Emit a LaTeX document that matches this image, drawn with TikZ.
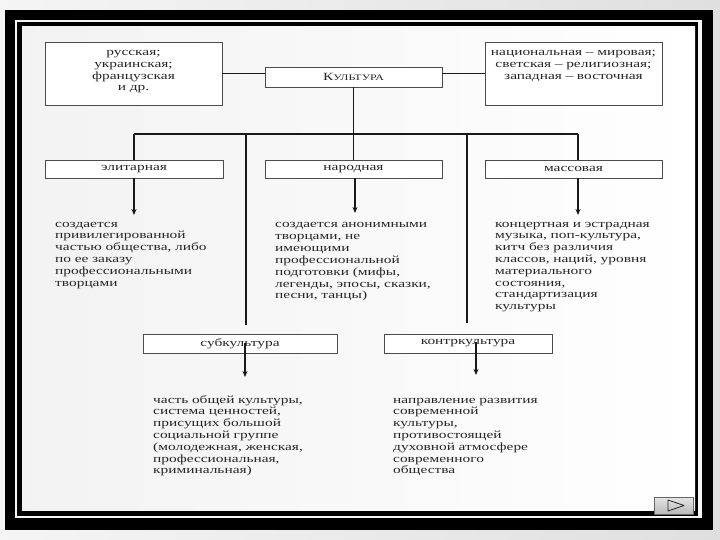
\documentclass[tikz,border=0pt]{standalone}
\usepackage{fontspec}
\setmainfont{Liberation Serif}[FakeStretch=1.4]
\usetikzlibrary{arrows.meta}
\begin{document}
\begin{tikzpicture}[x=1pt,y=-1pt,
  box/.style 2 args={draw=black!70, line width=0.8pt, fill=white, minimum width=#1, minimum height=#2, inner sep=0pt},
  txt/.style={font=\fontsize{11}{11.8}\selectfont, inner sep=0pt, text=black!85},
  ltxt/.style={txt, text width=200pt, align=left, anchor=base west},
  ctxt/.style={txt, text width=177pt, align=center, anchor=base},
  conn/.style={line width=1.3pt, black!90},
  arr/.style={conn, -{Stealth[length=6pt,width=5pt]}}
]
\useasboundingbox (0,0) rectangle (720,540);
% frame
\shade[left color=gray!8, right color=gray!25] (0,0) rectangle (720,540);
\fill[black] (5,10) rectangle (713,530);
\fill[gray!8] (15,20) rectangle (702,518);
\fill[black] (17,22) rectangle (698,516);
\shade[left color=gray!10, right color=white] (22,27) rectangle (695,510);

% top row
\node[box={177pt}{63pt}] (tl) at (133.5,73.5) {};
\node[ctxt] (tlt) at (133.5,55.5) {русская;\\украинская;\\французская\\и др.};
\node[box={177pt}{63pt}] (tr) at (573.5,73.5) {};
\node[ctxt] (trt) at (573.5,55.5) {национальная -- мировая;\\светская -- религиозная;\\западная -- восточная};
\node[box={177pt}{20pt}, txt] (kul) at (353.5,77) {К{\fontsize{8.5}{10}\selectfont УЛЬТУРА}};

% second row
\node[box={178pt}{18pt}, txt] (el) at (134,169) {элитарная};
\node[box={177pt}{18pt}, txt] (nar) at (353.5,169) {народная};
\node[box={177pt}{18pt}, txt] (mas) at (573.5,169) {массовая};

% texts
\node[ltxt] (elt) at (55,227) {создается\\привилегированной\\частью общества, либо\\по ее заказу\\профессиональными\\творцами};
\node[ltxt] (nart) at (275,228) {создается анонимными\\творцами, не\\имеющими\\профессиональной\\подготовки (мифы,\\легенды, эпосы, сказки,\\песни, танцы)};
\node[ltxt] (mast) at (495,227) {концертная и эстрадная\\музыка, поп-культура,\\китч без различия\\классов, наций, уровня\\материального\\состояния,\\стандартизация\\культуры};

% third row
\node[box={194pt}{19pt}, txt] (sub) at (240,343.5) {субкультура};
\node[box={168pt}{19pt}, txt] (kon) at (468,343.5) {контркультура};
\node[ltxt] (subt) at (153,403) {часть общей культуры,\\система ценностей,\\присущих большой\\социальной группе\\(молодежная, женская,\\профессиональная,\\криминальная)};
\node[ltxt] (kont) at (393,403) {направление развития\\современной\\культуры,\\противостоящей\\духовной атмосфере\\современного\\общества};

% coordinates
\coordinate (bL) at (134,134);
\coordinate (bR) at (578,134);
\coordinate (vL) at (246,134);
\coordinate (vLe) at (246,325);
\coordinate (vR) at (467,134);
\coordinate (vRe) at (467,323);
\coordinate (elTip) at (134,215);
\coordinate (narTip) at (355,213);
\coordinate (masTip) at (578,215);
\coordinate (subS) at (245,343);
\coordinate (subTip) at (245,377);
\coordinate (konS) at (476,342);
\coordinate (konTip) at (476,375);

% connectors
\draw[conn] (tl.east) -- (tl.east -| kul.west);
\draw[conn] (tr.west -| kul.east) -- (tr.west);
\draw[conn] (kul.south) -- (kul.south |- bL);
\draw[conn] (bL) -- (bR);
\draw[conn] (bL) -- (el.north);
\draw[conn] (kul.south |- bL) -- (nar.north);
\draw[conn] (bR) -- (bR |- mas.north);
\draw[conn] (vL) -- (vLe);
\draw[conn] (vR) -- (vRe);
\draw[arr] (el.south) -- (elTip);
\draw[arr] (narTip |- nar.south) -- (narTip);
\draw[arr] (masTip |- mas.south) -- (masTip);
\draw[arr] (subS) -- (subTip);
\draw[arr] (konS) -- (konTip);

% button
\shade[top color=gray!20, bottom color=gray!55, draw=black!60, line width=0.6pt] (654,497) rectangle (693,514);
\draw[black!85, line width=0.8pt, line join=round] (668,500) -- (684,505.5) -- (668,511) -- cycle;
\end{tikzpicture}
\end{document}
